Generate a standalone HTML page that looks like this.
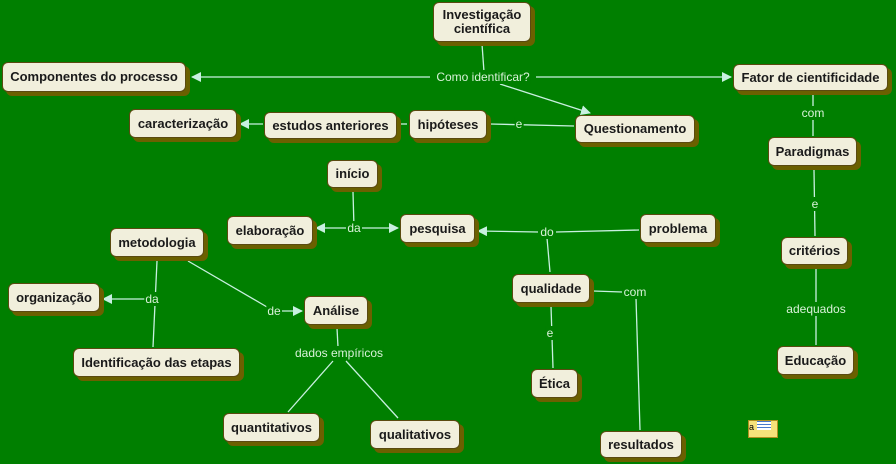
<!DOCTYPE html>
<html><head><meta charset="utf-8"><style>
body{margin:0;width:896px;height:464px;background:#007f00;overflow:hidden;position:relative;font-family:"Liberation Sans",sans-serif}
.n{position:absolute;background:#f1efdc;border:1.5px solid #5a4a10;border-radius:6px;box-shadow:4px 4px 0 #6b6000;font-weight:bold;font-size:13px;color:#1a1a1a;display:flex;align-items:center;justify-content:center;text-align:center;box-sizing:border-box;line-height:14px}
.l{position:absolute;color:#d8f2d8;font-size:12px;transform:translate(-50%,-50%);background:#007f00;padding:0 1px;white-space:nowrap}
svg{position:absolute;left:0;top:0}
</style></head><body>
<svg width="896" height="464">
<defs><marker id="a" markerWidth="10" markerHeight="10" refX="9" refY="5" orient="auto" markerUnits="userSpaceOnUse"><path d="M0,0L10,5L0,10z" fill="#c8f0e0"/></marker></defs>
<g stroke="#c8f0e0" stroke-width="1.3" fill="none">
<line x1="482" y1="44" x2="484" y2="72"/>
<line x1="430" y1="77" x2="192" y2="77" marker-end="url(#a)"/>
<line x1="536" y1="77" x2="731" y2="77" marker-end="url(#a)"/>
<line x1="500" y1="84" x2="590" y2="113" marker-end="url(#a)"/>
<line x1="490" y1="124" x2="574" y2="126"/>
<line x1="263" y1="124" x2="240" y2="124" marker-end="url(#a)"/>
<line x1="398" y1="124" x2="407" y2="124"/>
<line x1="813" y1="94" x2="813" y2="136"/>
<line x1="814" y1="170" x2="815" y2="236"/>
<line x1="816" y1="268" x2="816" y2="345"/>
<line x1="353" y1="192" x2="354" y2="228"/>
<line x1="346" y1="228" x2="316" y2="228" marker-end="url(#a)"/>
<line x1="362" y1="228" x2="398" y2="228" marker-end="url(#a)"/>
<line x1="639" y1="230" x2="556" y2="232"/>
<line x1="538" y1="232" x2="478" y2="231" marker-end="url(#a)"/>
<line x1="547" y1="238" x2="550" y2="272"/>
<line x1="593" y1="291" x2="622" y2="292"/>
<line x1="636" y1="298" x2="640" y2="430"/>
<line x1="551" y1="306" x2="553" y2="368"/>
<line x1="157" y1="261" x2="153" y2="347"/>
<line x1="146" y1="299" x2="103" y2="299" marker-end="url(#a)"/>
<line x1="188" y1="261" x2="267" y2="307"/>
<line x1="282" y1="311" x2="302" y2="311" marker-end="url(#a)"/>
<line x1="337" y1="328" x2="338" y2="347"/>
<line x1="333" y1="361" x2="288" y2="412"/>
<line x1="346" y1="361" x2="398" y2="418"/>
</g></svg>
<div class="n" style="left:433px;top:2px;width:98px;height:40px">Investigação<br>científica</div>
<div class="n" style="left:2px;top:62px;width:184px;height:30px">Componentes do processo</div>
<div class="n" style="left:733px;top:64px;width:155px;height:27px">Fator de cientificidade</div>
<div class="n" style="left:129px;top:109px;width:108px;height:29px">caracterização</div>
<div class="n" style="left:264px;top:112px;width:133px;height:27px">estudos anteriores</div>
<div class="n" style="left:409px;top:110px;width:78px;height:29px">hipóteses</div>
<div class="n" style="left:575px;top:115px;width:120px;height:28px">Questionamento</div>
<div class="n" style="left:768px;top:137px;width:89px;height:29px">Paradigmas</div>
<div class="n" style="left:327px;top:160px;width:51px;height:28px">início</div>
<div class="n" style="left:227px;top:216px;width:86px;height:29px">elaboração</div>
<div class="n" style="left:400px;top:214px;width:75px;height:29px">pesquisa</div>
<div class="n" style="left:640px;top:214px;width:76px;height:29px">problema</div>
<div class="n" style="left:110px;top:228px;width:94px;height:29px">metodologia</div>
<div class="n" style="left:781px;top:237px;width:67px;height:28px">critérios</div>
<div class="n" style="left:8px;top:283px;width:92px;height:29px">organização</div>
<div class="n" style="left:304px;top:296px;width:64px;height:29px">Análise</div>
<div class="n" style="left:512px;top:274px;width:78px;height:29px">qualidade</div>
<div class="n" style="left:73px;top:348px;width:167px;height:29px">Identificação das etapas</div>
<div class="n" style="left:531px;top:369px;width:47px;height:29px">Ética</div>
<div class="n" style="left:777px;top:346px;width:77px;height:29px">Educação</div>
<div class="n" style="left:223px;top:413px;width:97px;height:29px">quantitativos</div>
<div class="n" style="left:370px;top:420px;width:90px;height:29px">qualitativos</div>
<div class="n" style="left:600px;top:431px;width:82px;height:27px">resultados</div>
<div class="l" style="left:483px;top:77px">Como identificar?</div>
<div class="l" style="left:519px;top:124px">e</div>
<div class="l" style="left:813px;top:113px">com</div>
<div class="l" style="left:815px;top:204px">e</div>
<div class="l" style="left:816px;top:309px">adequados</div>
<div class="l" style="left:354px;top:228px">da</div>
<div class="l" style="left:547px;top:232px">do</div>
<div class="l" style="left:635px;top:292px">com</div>
<div class="l" style="left:550px;top:333px">e</div>
<div class="l" style="left:152px;top:299px">da</div>
<div class="l" style="left:274px;top:311px">de</div>
<div class="l" style="left:339px;top:353px">dados empíricos</div>
<div style="position:absolute;left:748px;top:420px;width:28px;height:16px;background:#f5e27a;border:1px solid #b09020;font-size:9px;line-height:10px;color:#000">a<span style="display:inline-block;width:14px;height:9px;margin-left:3px;background:repeating-linear-gradient(#4a7acc 0 1px,#fff 1px 3px)"></span></div>
</body></html>
